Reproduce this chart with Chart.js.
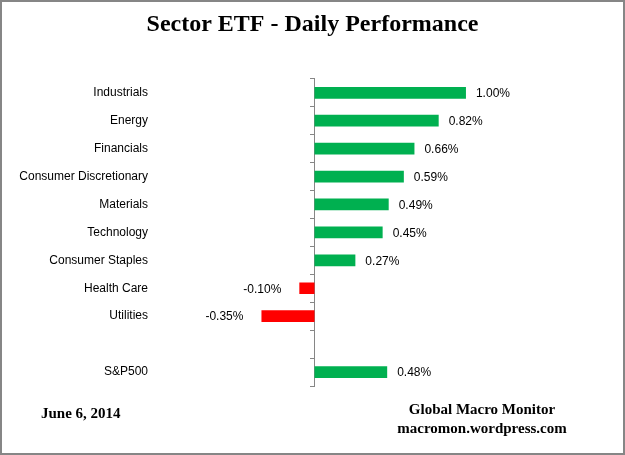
<!DOCTYPE html>
<html lang="en">
<head>
<meta charset="UTF-8">
<title>Sector ETF - Daily Performance</title>
<style>
  html, body { margin: 0; padding: 0; background: #fff; }
  #frame {
    position: relative;
    width: 621px; height: 451px;
    border: 2px solid #868686;
    background: #fff;
    overflow: hidden;
  }
  #wrap { position: absolute; left: -2px; top: -2px; width: 625px; height: 455px; }
  .note {
    position: absolute;
    font-family: "Liberation Serif", "Times New Roman", serif;
    font-weight: bold;
    font-size: 15px;
    color: #000;
    line-height: 19px;
  }
  #date { left: 39px; top: 402px; }
  #source { left: 388px; width: 184px; top: 398px; text-align: center; }
</style>
</head>
<body>
<div id="frame">
  <div id="wrap"><canvas id="perfChart" width="625" height="455"></canvas></div>
  <div class="note" id="date">June 6, 2014</div>
  <div class="note" id="source">Global Macro Monitor<br>macromon.wordpress.com</div>
</div>
<script src="https://cdn.jsdelivr.net/npm/chart.js"></script>
<script>
  // Sectors, top to bottom (blank slot before the S&P500 row)
  const sectors = ['Industrials', 'Energy', 'Financials', 'Consumer Discretionary', 'Materials',
                   'Technology', 'Consumer Staples', 'Health Care', 'Utilities', '', 'S&P500'];
  // daily change in percent
  const changes = [1.00, 0.82, 0.66, 0.59, 0.49, 0.45, 0.27, -0.10, -0.35, null, 0.48];

  const upColor = '#00B050';
  const downColor = '#FF0000';

  // value labels next to the bar ends
  const valueLabels = {
    id: 'valueLabels',
    afterDatasetsDraw(chart) {
      const ctx = chart.ctx;
      const meta = chart.getDatasetMeta(0);
      ctx.save();
      ctx.font = '12px "Liberation Sans", Arial, sans-serif';
      ctx.fillStyle = '#000';
      ctx.textBaseline = 'middle';
      meta.data.forEach(function(bar, i) {
        const v = changes[i];
        if (v === null) return;
        const txt = v.toFixed(2) + '%';
        if (v >= 0) {
          ctx.textAlign = 'left';
          ctx.fillText(txt, bar.x + 10, bar.y + 1);
        } else {
          ctx.textAlign = 'right';
          ctx.fillText(txt, bar.x - 18, bar.y + 1);
        }
      });
      ctx.restore();
    }
  };

  new Chart(document.getElementById('perfChart'), {
    type: 'bar',
    data: {
      labels: sectors,
      datasets: [{
        label: 'Daily change',
        data: changes,
        backgroundColor: changes.map(v => v < 0 ? downColor : upColor),
        barPercentage: 0.42,
        categoryPercentage: 1.0,
        yAxisID: 'y'
      }]
    },
    options: {
      indexAxis: 'y',
      responsive: false,
      animation: false,
      layout: { padding: { top: 0, right: 0, bottom: 69, left: 0 } },
      plugins: {
        legend: { display: false },
        tooltip: { enabled: false },
        title: {
          display: true,
          text: 'Sector ETF - Daily Performance',
          color: '#000',
          font: { family: '"Liberation Serif", "Times New Roman", serif', size: 24, weight: 'bold' },
          padding: { top: 10, bottom: 40 }
        }
      },
      scales: {
        x: {
          min: -1.0,
          max: 2.05,
          display: false
        },
        y: {
          position: 'left',
          grid: { display: false },
          border: { display: false },
          ticks: {
            color: '#000',
            padding: 7,
            font: { family: '"Liberation Sans", Arial, sans-serif', size: 12 }
          },
          afterFit(scale) { scale.width = 163; }
        },
        yAxis0: {
          type: 'category',
          axis: 'y',
          labels: sectors,
          position: { x: 0 },
          offset: true,
          ticks: { display: false },
          grid: { drawOnChartArea: false, offset: true, tickLength: 4, color: '#868686' },
          border: { color: '#868686', width: 1 }
        }
      }
    },
    plugins: [valueLabels]
  });
</script>
</body>
</html>
